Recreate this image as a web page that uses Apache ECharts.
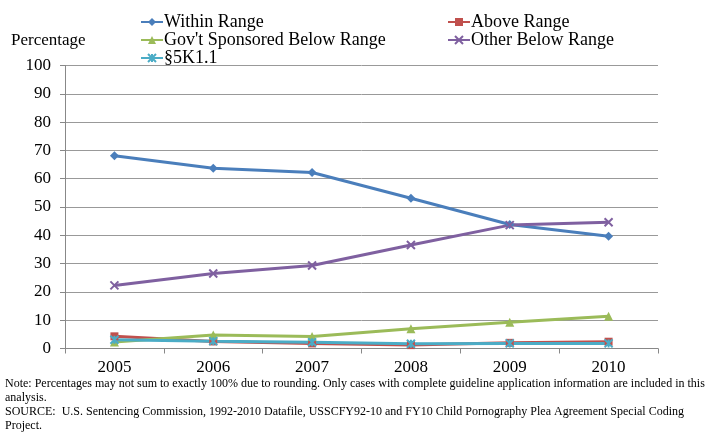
<!DOCTYPE html>
<html><head><meta charset="utf-8">
<script src="https://cdn.jsdelivr.net/npm/echarts@6/dist/echarts.min.js"></script>
<style>html,body{margin:0;padding:0;background:#fff}#c{width:715px;height:434px}</style>
</head><body><div id="c"></div>
<script>
var categories = ['2005','2006','2007','2008','2009','2010'];
var withinRange = [68.1, 63.7, 62.2, 53.1, 43.8, 39.7];
var aboveRange = [4.3, 2.5, 1.8, 1.2, 2.0, 2.4];
var govSponsored = [2.3, 4.8, 4.2, 7.0, 9.3, 11.4];
var otherBelow = [22.3, 26.5, 29.3, 36.6, 43.6, 44.6];
var k51 = [3.1, 2.6, 2.2, 1.7, 1.8, 1.8];
var seriesNames = ['Within Range','Above Range',"Gov't Sponsored Below Range",'Other Below Range','\u00a75K1.1'];
var yTicks = [0,10,20,30,40,50,60,70,80,90,100];

var serif = '"Liberation Serif","DejaVu Serif",serif';
var colors = ['#4a7ebb','#c0504d','#9bbb59','#7f60a0','#4bacc6'];
var xPath = 'path://M0,0L10,10M10,0L0,10';
var starPath = 'path://M0,0L10,10M10,0L0,10M5,0L5,10';
function mk(name, data, color, symbol, size) {
  return {name:name, type:'line', data:data, symbol:symbol, symbolSize:size,
    lineStyle:{color:color, width:3}, itemStyle:{color:color, borderColor:color, borderWidth: (symbol.indexOf('path')===0?2:0)},
    emphasis:{disabled:true}, animation:false};
}
var legendPos = [[140,13],[447,13],[140,31],[447,31],[140,49]];
var legends = seriesNames.map(function(n,i){
  return {data:[n], left:legendPos[i][0], top:legendPos[i][1], itemWidth:22, itemHeight:10, itemGap:0,
    textStyle:{fontFamily:serif, fontSize:18, color:'#000', padding:[0,0,0,-4]}, padding:0};
});
var chart = echarts.init(document.getElementById('c'), null, {renderer:'canvas'});
chart.setOption({
  animation:false,
  color: colors,
  legend: legends,
  grid:{left:65, right:57, top:65.5, bottom:85.5},
  xAxis:{type:'category', data:categories, boundaryGap:true,
    axisLine:{lineStyle:{color:'#888', width:1}},
    axisTick:{show:true, interval:0, length:5, lineStyle:{color:'#888'}},
    axisLabel:{fontFamily:serif, fontSize:17, color:'#000', margin:11}},
  yAxis:{type:'value', min:yTicks[0], max:yTicks[yTicks.length-1], interval:10,
    axisLine:{show:true, lineStyle:{color:'#888', width:1}},
    axisTick:{show:true, length:5, lineStyle:{color:'#888'}},
    splitLine:{lineStyle:{color:'#999', width:1}},
    axisLabel:{fontFamily:serif, fontSize:17, color:'#000', margin:14}},
  graphic:[
    {type:'text', left:11, top:32, style:{text:'Percentage', font:'17px '+serif, fill:'#000'}},
    {type:'text', left:5, top:378, style:{text:'Note: Percentages may not sum to exactly 100% due to rounding. Only cases with complete guideline application information are included in this', font:'12px '+serif, fill:'#000'}},
    {type:'text', left:5, top:392, style:{text:'analysis.', font:'12px '+serif, fill:'#000'}},
    {type:'text', left:5, top:406, style:{text:'SOURCE:  U.S. Sentencing Commission, 1992-2010 Datafile, USSCFY92-10 and FY10 Child Pornography Plea Agreement Special Coding', font:'12px '+serif, fill:'#000'}},
    {type:'text', left:5, top:420, style:{text:'Project.', font:'12px '+serif, fill:'#000'}}
  ],
  series:[
    mk(seriesNames[0], withinRange, colors[0], 'diamond', 9),
    mk(seriesNames[1], aboveRange, colors[1], 'rect', 8),
    mk(seriesNames[2], govSponsored, colors[2], 'triangle', 9),
    mk(seriesNames[3], otherBelow, colors[3], xPath, 8),
    mk(seriesNames[4], k51, colors[4], starPath, 8)
  ]
});
</script></body></html>
